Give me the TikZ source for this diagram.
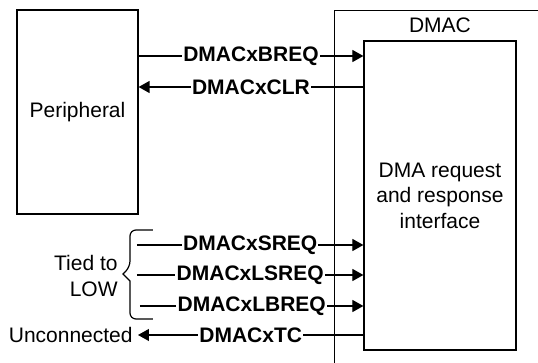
\documentclass[tikz,border=0pt]{standalone}
\usepackage{fontspec}
\setmainfont{Liberation Sans}
\usetikzlibrary{arrows.meta, positioning, calc}

\begin{document}
\begin{tikzpicture}[x=0.5pt, y=-0.5pt, font=\fontsize{10.5}{12.75}\selectfont,
    box/.style={draw, line width=0.6pt, inner sep=0pt},
    wire/.style={line width=0.6pt},
    sig/.style={wire, -{Triangle[length=5.5pt,width=6pt]}},
    lbl/.style={fill=white, inner xsep=0.6pt, inner ysep=1pt, font=\fontsize{10.5}{12.75}\selectfont\bfseries}]
    \useasboundingbox (0,0) rectangle (538,363);
    \clip (0,0) rectangle (538,363);
    \node[box, minimum width=60.5pt, minimum height=102pt] (per) at (77.5,112) {Peripheral};
    \node[box, anchor=north west, minimum width=150pt, minimum height=200pt] (dmac) at (334,10) {};
    \node (dlab) at (440,25) {DMAC};
    \node[box, minimum width=76pt, minimum height=154.5pt, align=center] (req) at (440,195.5) {DMA request\\and response\\interface};
    \draw[sig] (per.east |- 0,56) -- node[lbl] {DMACxBREQ} (req.west |- 0,56);
    \draw[sig] (req.west |- 0,87) -- node[lbl] {DMACxCLR} (per.east |- 0,87);
    \coordinate (s) at (137,245);
    \coordinate (ls) at (137,275);
    \coordinate (lb) at (140,306);
    \draw[sig] (s) -- node[lbl] {DMACxSREQ} (req.west |- s);
    \draw[sig] (ls) -- node[lbl] {DMACxLSREQ} (req.west |- ls);
    \draw[sig] (lb) -- node[lbl] {DMACxLBREQ} (req.west |- lb);
    \draw[wire, rounded corners=3pt] (153,230) -- (130,230) -- (130,267) [sharp corners] -- (123,274) -- (130,281) [rounded corners=3pt] -- (130,319) -- (153,319);
    \node[anchor=east, align=right, inner sep=0pt] (tie) at (118,276) {Tied to\\LOW};
    \node[anchor=east, inner xsep=2.5pt, inner ysep=0pt] (unc) at (138,335) {Unconnected};
    \draw[sig] (req.west |- unc) -- node[lbl] {DMACxTC} (unc.east);
\end{tikzpicture}
\end{document}
